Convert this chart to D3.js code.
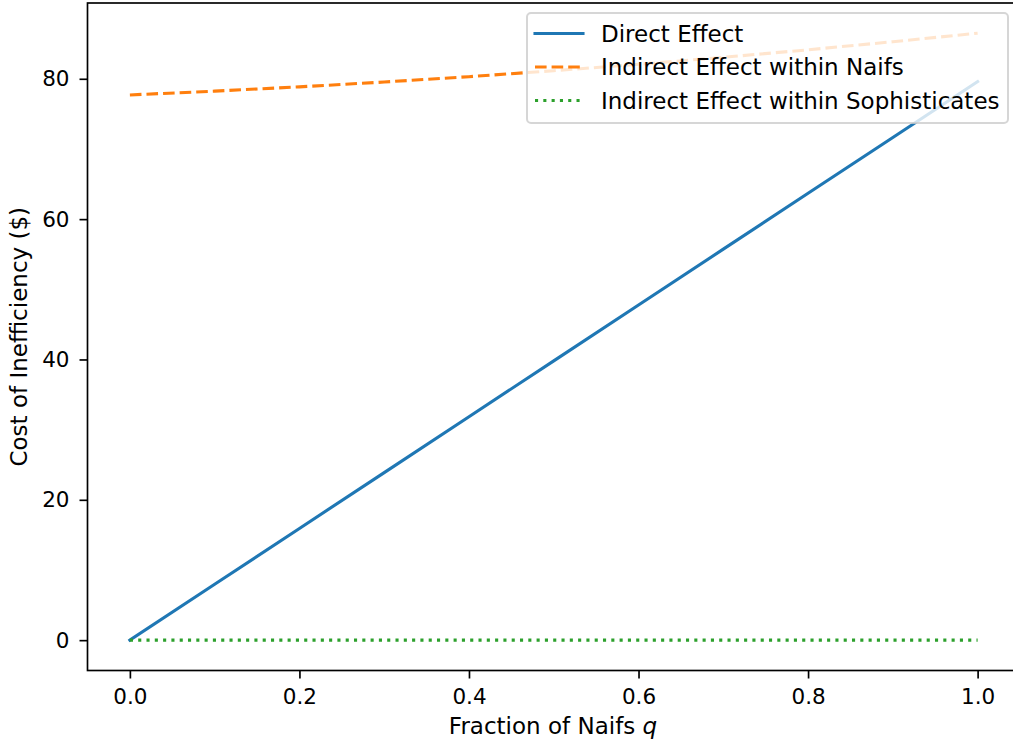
<!DOCTYPE html>
<html>
<head>
<meta charset="utf-8">
<script src="https://cdn.jsdelivr.net/npm/d3@7"></script>
<style>
  body { margin: 0; background: #fff; }
  text { font-family: "DejaVu Sans", sans-serif; fill: #000; }
  .axis path, .axis line { stroke: #000; stroke-width: 1.67px; }
  .axis text { font-size: 21.5px; }
</style>
</head>
<body>
<div id="chart"></div>
<script>
// data
var qValues = [0, 0.1, 0.2, 0.3, 0.4, 0.5, 0.6, 0.7, 0.8, 0.9, 1.0];
var directEffect = [0, 7.96, 15.92, 23.88, 31.84, 39.8, 47.76, 55.72, 63.68, 71.64, 79.6];
var naifEffect = [77.7, 78.24, 78.85, 79.54, 80.3, 81.15, 82.06, 83.06, 84.13, 85.28, 86.5];
var sophEffect = [0, 0, 0, 0, 0, 0, 0, 0, 0, 0, 0];
var xTicks = [0, 0.2, 0.4, 0.6, 0.8, 1.0];
var yTicks = [0, 20, 40, 60, 80];
var seriesNames = ['Direct Effect', 'Indirect Effect within Naifs', 'Indirect Effect within Sophisticates'];

var W = 1013, H = 744;
var margin = { top: 3, left: 87.5, bottom: 73.5, right: -7 };
var width = W - margin.left - margin.right,
    height = H - margin.top - margin.bottom;

var svg = d3.select('#chart').append('svg')
  .attr('width', W)
  .attr('height', H)
  .style('display', 'block');

var g = svg.append('g')
  .attr('transform', 'translate(' + margin.left + ',' + margin.top + ')');

var x = d3.scaleLinear().domain([-0.05, 1.05]).range([0, width]);
var y = d3.scaleLinear().domain([-4.325, 90.8]).range([height, 0]);

var series = [
  { name: seriesNames[0], values: directEffect, color: '#1f77b4', dash: null, cap: 'square' },
  { name: seriesNames[1], values: naifEffect, color: '#ff7f0e', dash: '11.6,5', cap: 'butt' },
  { name: seriesNames[2], values: sophEffect, color: '#2ca02c', dash: '3.1,5.2', cap: 'butt' }
];

var line = d3.line()
  .x((d, i) => x(qValues[i]))
  .y(d => y(d));

g.selectAll('.series')
  .data(series)
  .enter()
  .append('path')
  .attr('class', 'series')
  .attr('d', d => line(d.values))
  .attr('fill', 'none')
  .attr('stroke', d => d.color)
  .attr('stroke-width', 3.1)
  .attr('stroke-linecap', d => d.cap)
  .attr('stroke-dasharray', d => d.dash);

// axes
var xAxis = d3.axisBottom(x)
  .tickValues(xTicks)
  .tickFormat(d3.format('.1f'))
  .tickSize(8)
  .tickPadding(10.5)
  .tickSizeOuter(0);

var yAxis = d3.axisLeft(y)
  .tickValues(yTicks)
  .tickFormat(d3.format('d'))
  .tickSize(8)
  .tickPadding(10)
  .tickSizeOuter(0);

g.append('g')
  .attr('class', 'axis')
  .attr('transform', 'translate(0,' + height + ')')
  .call(xAxis);

g.append('g')
  .attr('class', 'axis')
  .call(yAxis);

g.selectAll('.axis .domain').remove();

// frame (all four spines)
g.append('rect')
  .attr('x', 0).attr('y', 0)
  .attr('width', width).attr('height', height)
  .attr('fill', 'none')
  .attr('stroke', '#000')
  .attr('stroke-width', 1.67);

// axis labels
var xl = svg.append('text')
  .attr('x', 553)
  .attr('y', 734)
  .attr('text-anchor', 'middle')
  .style('font-size', '23px');
xl.append('tspan').text('Fraction of Naifs ');
xl.append('tspan').style('font-style', 'italic').text('q');

svg.append('text')
  .attr('transform', 'translate(27,' + (margin.top + height / 2) + ') rotate(-90)')
  .attr('text-anchor', 'middle')
  .style('font-size', '23px')
  .text('Cost of Inefficiency ($)');

// legend
var lg = svg.append('g').attr('transform', 'translate(527,13)');
lg.append('rect')
  .attr('width', 481).attr('height', 110)
  .attr('rx', 4).attr('ry', 4)
  .attr('fill', 'rgba(255,255,255,0.8)')
  .attr('stroke', 'rgba(204,204,204,0.8)')
  .attr('stroke-width', 2);

var rows = lg.selectAll('.lrow')
  .data(series)
  .enter()
  .append('g')
  .attr('class', 'lrow')
  .attr('transform', (d, i) => 'translate(0,' + (20.5 + i * 33.5) + ')');

rows.append('line')
  .attr('x1', 8).attr('x2', 56)
  .attr('y1', 0).attr('y2', 0)
  .attr('stroke', d => d.color)
  .attr('stroke-width', 3.1)
  .attr('stroke-linecap', d => d.cap)
  .attr('stroke-dasharray', d => d.dash);

rows.append('text')
  .attr('x', 74)
  .attr('y', 0)
  .attr('dy', '0.36em')
  .style('font-size', '23px')
  .text(d => d.name);
</script>
</body>
</html>
